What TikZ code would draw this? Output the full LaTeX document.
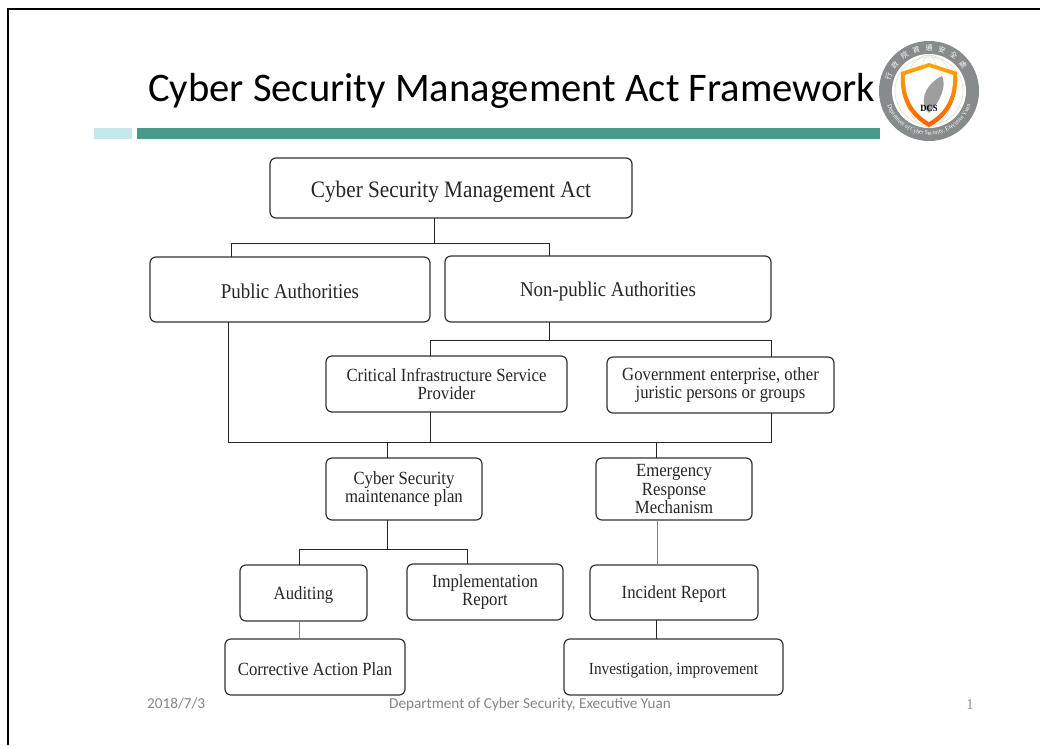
\documentclass[tikz,border=0pt]{standalone}
\usepackage{fontspec}
\setmainfont[FakeStretch=0.9]{Liberation Serif}
\newfontfamily\slidefont{Carlito}
\newfontfamily\cjkfont{Noto Sans CJK TC}
\usetikzlibrary{decorations.text}
\definecolor{bargreen}{HTML}{4A9A8A}
\definecolor{barblue}{HTML}{C3E7EB}
\definecolor{footgray}{HTML}{858585}
\definecolor{ringgray}{HTML}{868B8B}
\definecolor{mapline}{HTML}{DDE5D0}
\tikzset{
	box/.style={draw=black!80, rounded corners=6pt, line width=1.2pt, inner sep=0pt, outer sep=0pt, align=center, text=black!85, font=\fontsize{18.6}{18.5}\selectfont, anchor=north west, execute at begin node={\rule{0pt}{0.9em}}},
	bigbox/.style={box, font=\fontsize{21}{23}\selectfont},
	wire/.style={line width=0.9pt, draw=black!85},
	faint/.style={line width=0.9pt, draw=black!50},
	foot/.style={text=footgray, font=\slidefont\fontsize{15.2}{17}\selectfont, inner sep=0pt},
}
\begin{document}
\begin{tikzpicture}[x=1pt, y=-1pt]
	\useasboundingbox (0, 0) rectangle (1040, 745);
	\fill[white] (0, 0) rectangle (1040, 745);
	% frame
	\draw[line width=1.8pt] (1040, 9) -- (8, 9) -- (8, 745);
	
	% title
	\node[inner sep=0pt, anchor=base west, font=\slidefont\fontsize{40.6}{43}\selectfont] (title) at (148, 101) {Cyber Security Management Act Framework};
	\fill[barblue] (94, 128) rectangle (132, 139);
	\fill[bargreen] (137, 128) rectangle (880, 139);
	
	% logo
	\fill[ringgray] (929, 91) circle (50);
	\fill[white] (929, 91) circle (37);
	\foreach \r in {12, 24, 34}{
		\draw[mapline, line width=0.7pt] (929, 91) circle (\r);
	}
	\foreach \r in {10, 24}{
		\draw[mapline, line width=0.7pt] (929, 91) ellipse (\r pt and 36pt);
	}
	\path[decorate, decoration={text along path, text align=center, text={|\fontsize{6.4}{8}\selectfont\color{white}|Department of Cyber Security, Executive Yuan}}] (885, 91) arc[start angle=180, end angle=360, radius=44pt];
	\foreach \c [count=\i] in {行,政,院,資,通,安,全,處}{
		\node[text=white, inner sep=0pt, rotate=160-\i*17.5+17.5-90, font=\cjkfont\fontsize{7}{8}\selectfont] (seal\i) at ([shift={(160-\i*17.5+17.5:43pt)}] 929, 91) {\c};
	}
	\shade[top color=orange!70!yellow, bottom color=orange!75!red] (929, 63) -- (957, 72) .. controls (959, 97) and (950, 116) .. (929, 127) .. controls (908, 116) and (899, 97) .. (901, 72) -- cycle;
	\fill[white] (929, 67) -- (953, 75) .. controls (954, 96) and (946, 112) .. (929, 122) .. controls (912, 112) and (904, 96) .. (905, 75) -- cycle;
	\fill[black!38] (942, 76) .. controls (947, 86) and (940, 102) .. (929, 113) .. controls (919, 105) and (923, 85) .. cycle;
	\node[inner sep=0pt, font=\bfseries\fontsize{9.5}{10}\selectfont] (dcs) at (929, 108) {DCS};
	
	% boxes
	\node[bigbox, minimum width=362pt, minimum height=60pt, font=\fontsize{23.6}{25}\selectfont, execute at begin node={\rule{0pt}{1.05em}}] (act) at (270, 158) {Cyber Security Management Act};
	\node[bigbox, minimum width=280pt, minimum height=65pt] (public) at (150, 257) {Public Authorities};
	\node[bigbox, minimum width=326pt, minimum height=66pt] (nonpublic) at (445, 256) {Non-public Authorities};
	\node[box, minimum width=241pt, minimum height=56pt] (provider) at (326, 356) {Critical Infrastructure Service\\Provider};
	\node[box, minimum width=227pt, minimum height=56pt] (gov) at (607, 357) {Government enterprise, other\\juristic persons or groups};
	\node[box, minimum width=156pt, minimum height=62pt, execute at begin node={\rule{0pt}{1.05em}}] (plan) at (326, 458) {Cyber Security\\maintenance plan};
	\node[box, minimum width=156pt, minimum height=62pt] (emergency) at (596, 458) {Emergency\\Response\\Mechanism};
	\node[box, minimum width=127pt, minimum height=56pt] (auditing) at (240, 565) {Auditing};
	\node[box, minimum width=156pt, minimum height=56pt, execute at begin node={\rule{0pt}{1.05em}}] (report) at (407, 564) {Implementation\\Report};
	\node[box, minimum width=168pt, minimum height=55pt] (incident) at (590, 565) {Incident Report};
	\node[box, minimum width=180pt, minimum height=56pt, execute at begin node={}] (corrective) at (225, 639) {Corrective Action Plan};
	\node[box, minimum width=219pt, minimum height=56pt, font=\fontsize{17}{18}\selectfont, execute at begin node={\rule{0pt}{1.05em}}] (investigation) at (564, 639) {Investigation, improvement};
	
	% act to authorities
	\draw[wire] (act.south -| 434, 0) -- (434, 243);
	\draw[wire] (public.north -| 231, 0) -- (231, 243) -- (549, 243) -- (nonpublic.north -| 549, 0);
	
	% non-public to providers
	\draw[wire] (nonpublic.south -| 549, 0) -- (549, 340);
	\draw[wire] (provider.north -| 430, 0) -- (430, 340) -- (771, 340) -- (gov.north -| 771, 0);
	
	% bus above the plans
	\draw[wire] (public.south -| 228, 0) -- (228, 442) -- (771, 442) -- (gov.south -| 771, 0);
	\draw[wire] (provider.south -| 430, 0) -- (430, 442);
	\foreach \x/\n in {387/plan, 656/emergency}{
		\draw[wire] (\x, 442) -- (\n.north -| \x, 0);
	}
	
	% plan to auditing and report
	\draw[wire] (plan.south -| 387, 0) -- (387, 549);
	\draw[wire] (auditing.north -| 299, 0) -- (299, 549) -- (467, 549) -- (report.north -| 467, 0);
	
	\draw[faint] (emergency.south -| 657, 0) -- (incident.north -| 657, 0);
	\draw[faint] (auditing.south -| 299, 0) -- (corrective.north -| 299, 0);
	\draw[wire] (incident.south -| 656, 0) -- (investigation.north -| 656, 0);
	
	% footer
	\node[foot, anchor=base west] (date) at (147, 708) {2018/7/3};
	\node[foot, anchor=base] (dept) at (530, 708) {Department of Cyber Security, Executive Yuan};
	\node[foot, anchor=base, font=\fontsize{15}{16}\selectfont] (page) at (970, 709) {1};
\end{tikzpicture}
\end{document}
